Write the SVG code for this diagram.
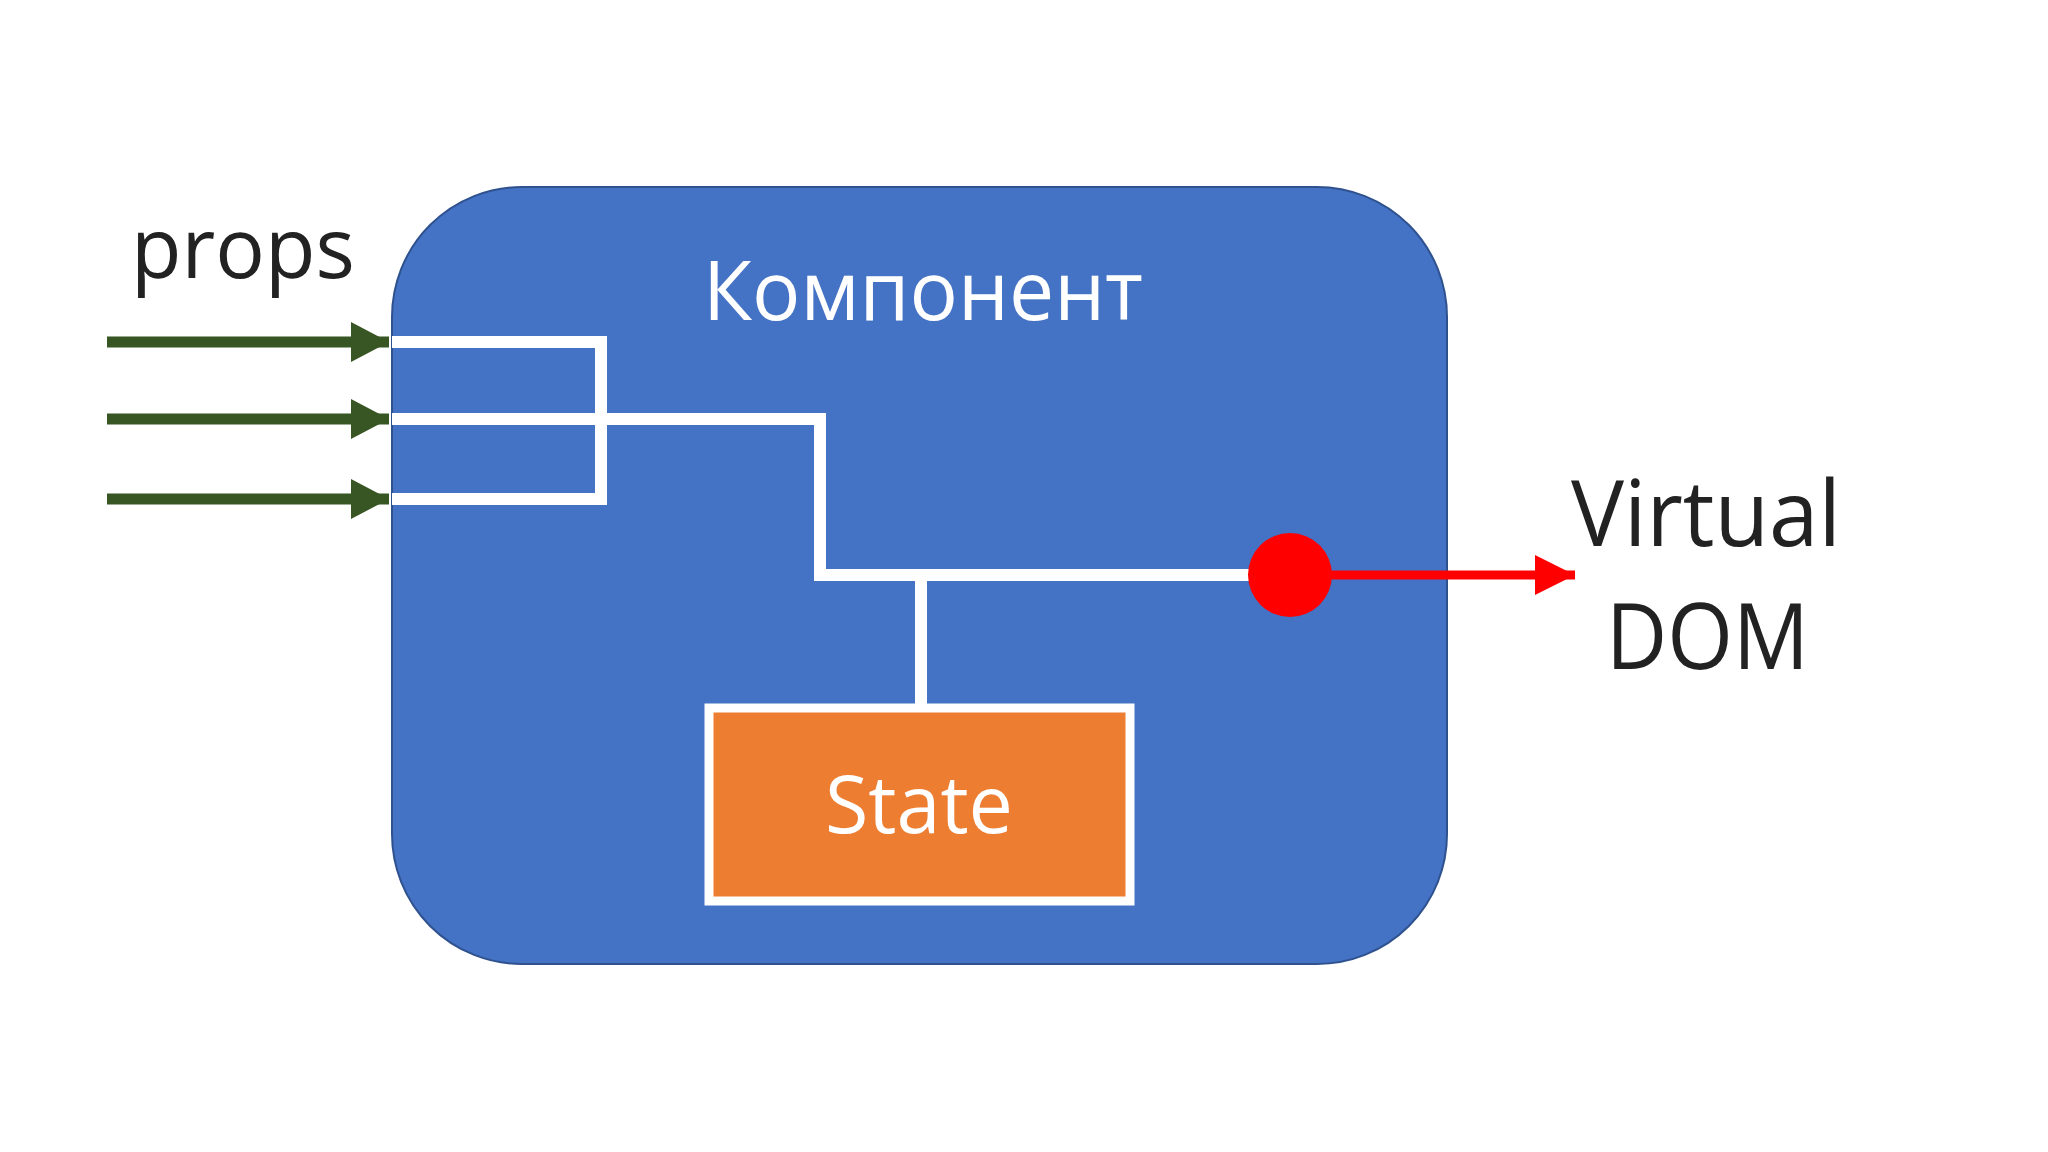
<svg xmlns="http://www.w3.org/2000/svg" width="2048" height="1152" viewBox="0 0 2048 1152">
<style>
.t{font-family:"Open Sans","Noto Sans",sans-serif}
.w{fill:none;stroke:#fff;stroke-width:12}
.g{stroke:#375623;stroke-width:11}
</style>
<defs>
<marker id="ga" markerUnits="userSpaceOnUse" markerWidth="38" markerHeight="40" refX="38" refY="20" orient="auto"><path d="M0,0L38,20L0,40z" fill="#375623"/></marker>
<marker id="ra" markerUnits="userSpaceOnUse" markerWidth="40" markerHeight="40" refX="40" refY="20" orient="auto"><path d="M0,0L40,20L0,40z" fill="#f00"/></marker>
</defs>
<rect width="2048" height="1152" fill="#fff"/>
<g id="component">
<rect x="392" y="187" width="1055" height="777" rx="130" ry="130" fill="#4472C4" stroke="#2F528F" stroke-width="2"/>
<text class="t" x="703" y="320" font-size="82" fill="#fff" textLength="440" lengthAdjust="spacingAndGlyphs">Компонент</text>
</g>
<g id="props"><text class="t" x="131" y="278" font-size="84" fill="#222" textLength="224" lengthAdjust="spacingAndGlyphs">props</text></g>
<g id="state">
<rect x="709" y="708" width="421" height="193" fill="#ED7D31" stroke="#fff" stroke-width="9"/>
<text class="t" x="825" y="833" font-size="80" fill="#fff" textLength="188" lengthAdjust="spacingAndGlyphs">State</text>
</g>
<g id="vdom">
<text class="t" x="1571" y="546" font-size="92" fill="#222" textLength="270" lengthAdjust="spacingAndGlyphs">Virtual</text>
<text class="t" x="1606" y="669" font-size="92" fill="#222" textLength="203" lengthAdjust="spacingAndGlyphs">DOM</text>
</g>
<g id="connectors">
<line class="g" x1="107" y1="342" x2="389" y2="342" marker-end="url(#ga)"/>
<line class="g" x1="107" y1="419" x2="389" y2="419" marker-end="url(#ga)"/>
<line class="g" x1="107" y1="499" x2="389" y2="499" marker-end="url(#ga)"/>
<path class="w" d="M392,342H601V499H392M392,419H820V575H1290M921,575V706"/>
<circle cx="1290" cy="575" r="42" fill="#f00"/>
<line x1="1330" y1="575" x2="1575" y2="575" stroke="#f00" stroke-width="9" marker-end="url(#ra)"/>
</g>
</svg>
